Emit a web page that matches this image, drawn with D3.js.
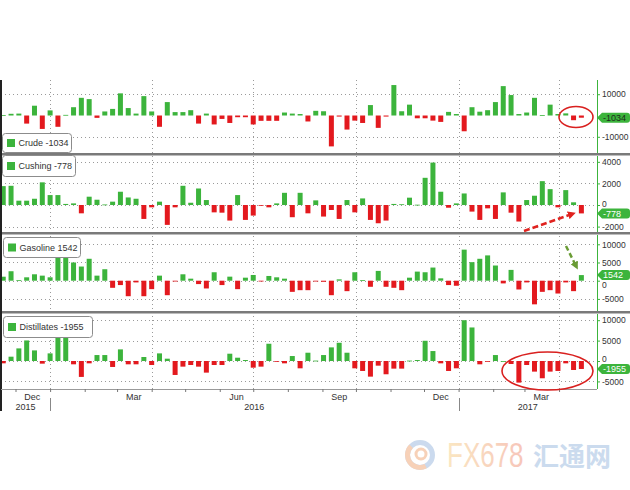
<!DOCTYPE html>
<html>
<head>
<meta charset="utf-8">
<script src="https://cdn.jsdelivr.net/npm/d3@7"></script>
<style>
  body { margin: 0; background: #fff; }
  svg { display: block; font-family: "Liberation Sans", Arial, sans-serif; }
</style>
</head>
<body>
<svg id="chart" width="630" height="490"></svg>
<script>
// weekly stock changes (thousand barrels), one bar per week, first bar plotted 2015-11-20
const crude = [200, 800, 900, -3800, 4600, -6300, 2400, -5300, 300, 3900,
  8300, 7700, -1100, 1900, 3100, 10400, 3500, 900, 9100, 1900,
  -5300, 6300, 1600, 1600, 2500, -3800, 900, -4200, -1600, -3500,
  -800, -800, -4200, -2500, -2500, -2500, 1400, 900, 700, -2800,
  2200, 2000, -14500, -500, -6600, -2400, -3500, 4900, -5800, -500,
  14300, 2000, 5100, -1300, -1300, -2400, -3000, 1700, 700, -7400,
  3900, 1800, 2500, 6300, 13800, 9600, 700, 1400, 8300, 200,
  5100, 700, 1000, -2200, -1034];

const cushing = [1750, 1780, 400, 400, 580, 2100, 920, 920, 100, 150,
  -770, 770, 490, 50, 310, 1230, 700, 580, -1290, -215,
  310, -1840, -215, 1780, 210, 1530, 460, -680, -710, -1440,
  920, -1380, -980, -30, -215, 150, 1130, -1130, 1130, -770,
  430, -1070, -460, -1290, 460, -680, 610, -1380, -1690, -1440,
  100, 70, 680, 30, 2520, 3930, 1230, -250, 150, 1070,
  -610, -1380, -310, -1290, 1170, -710, -1530, 460, 860, 2210,
  1470, -215, 1380, 250, -778];

const gasoline = [1100, 2600, 150, 930, 1760, 1390, 930, 7500, 7000, 5000,
  3890, 6020, 1390, 3150, -1950, -1200, -4260, -470, -4260, -2320,
  1390, -3980, -100, 1760, 560, -930, -2130, 2320, -1200, 1110,
  -2320, 830, 1570, -100, 1300, 930, 560, -3060, -2600, -2600,
  -200, -300, -3980, 370, -2870, 2320, 150, -1670, 2690, -1670,
  -1950, -2600, 830, 2500, 2320, 3610, 650, -1200, -1390, 8530,
  5090, 6020, 6950, 4170, -740, 2970, -2410, -470, -6490, -3060,
  -2600, -3520, -470, -2870, 1542];

const distillates = [-570, 1060, 3090, 5040, 2600, -650, 1870, 9000, 6500, -810,
  -3900, -570, 1460, 1460, -1460, 2850, -810, -810, 980, -980,
  1870, 570, -3420, -1380, -980, -1380, -2850, -980, -980, 1790,
  810, 240, -1630, -1380, 4230, -160, -570, 1220, -1790, 2030,
  100, 1460, 3340, 4470, 2030, -1790, -2440, -3830, -1140, -3250,
  -1870, -1870, 100, 240, 4960, 2440, -570, -2440, -1790, 10000,
  8220, -810, -50, 1460, 0, -730, -5290, -980, -2600, -4230,
  -2600, -2440, -570, -2200, -1955];

const seriesNames = ["Crude", "Cushing", "Gasoline", "Distillates"];
const lastLabels = ["-1034", "-778", "1542", "-1955"];
const crudeTicks = [-10000, 10000];
const cushingTicks = [-2000, 0, 2000, 4000];
const gasolineTicks = [-5000, 0, 5000, 10000];
const distillatesTicks = [-5000, 0, 5000, 10000];
const monthLabels = ["Dec", "Mar", "Jun", "Sep", "Dec", "Mar"];
const yearLabels = ["2015", "2016", "2017"];

const weeks = d3.timeFriday.range(new Date(2015, 10, 20), new Date(2017, 3, 22));

const svg = d3.select("#chart");
const GREEN = "#3cb43c", RED = "#e3191e";
const left = 1, right = 597, axisY = 389;

var x = d3.scaleTime()
    .domain([new Date(2015, 10, 18), new Date(2017, 4, 5)])
    .range([left, right]);

// panel layout (zeroShift nudges the "0" label where the value tag sits on it)
const panels = [
    { values: crude, ticks: crudeTicks, top: 80, bottom: 153, domain: [-17600, 16670], lg: [2.5, 133.5, 69, 19], dark: true, zeroShift: 0 },
    { values: cushing, ticks: cushingTicks, top: 156, bottom: 232, domain: [-2500, 4540], lg: [2.5, 155.5, 73, 21], zeroShift: -1 },
    { values: gasoline, ticks: gasolineTicks, top: 235, bottom: 311, domain: [-8320, 12550], lg: [3.5, 237.5, 77, 20], zeroShift: 4 },
    { values: distillates, ticks: distillatesTicks, top: 314, bottom: 389, domain: [-6860, 11520], lg: [3.5, 316.5, 89, 21], zeroShift: -2.5 }
];

var defs = svg.append("defs");
defs.append("clipPath").attr("id", "plotclip")
    .append("rect").attr("x", left).attr("y", 80).attr("width", right - left).attr("height", axisY - 80);

function marker(id, color) {
    defs.append("marker").attr("id", id)
        .attr("viewBox", "0 0 10 10").attr("refX", 5).attr("refY", 5)
        .attr("markerWidth", 3.2).attr("markerHeight", 3.2).attr("orient", "auto")
        .append("path").attr("d", "M0,0 L10,5 L0,10 Z").attr("fill", color);
}
marker("arrRed", "#e0221e");
marker("arrGreen", "#6a9c35");

var wmGrad = defs.append("linearGradient").attr("id", "wmgrad").attr("x1", 0).attr("x2", 1);
wmGrad.append("stop").attr("offset", "0%").attr("stop-color", "#f8d79a");
wmGrad.append("stop").attr("offset", "100%").attr("stop-color", "#f2a08c");

// vertical quarter gridlines
var quarters = d3.timeMonth.every(3).range(new Date(2016, 0, 1), new Date(2017, 4, 1));
svg.append("g").selectAll("line").data(quarters).enter().append("line")
    .attr("x1", d => Math.round(x(d)) + 0.5).attr("x2", d => Math.round(x(d)) + 0.5)
    .attr("y1", 80).attr("y2", axisY)
    .attr("stroke", "#9a9a9a").attr("stroke-width", 1).attr("stroke-dasharray", "1,3");

panels.forEach((p, k) => {
    var y = d3.scaleLinear().domain(p.domain).range([p.bottom, p.top]);
    var g = svg.append("g");

    // horizontal gridlines
    g.selectAll(".hgrid").data(p.ticks).enter().append("line")
        .attr("x1", left).attr("x2", right)
        .attr("y1", d => Math.round(y(d)) + 0.5).attr("y2", d => Math.round(y(d)) + 0.5)
        .attr("stroke", "#9a9a9a").attr("stroke-dasharray", "1,3");

    // bars
    g.append("g").attr("clip-path", "url(#plotclip)")
        .selectAll("rect").data(p.values).enter().append("rect")
        .attr("x", (d, i) => x(weeks[i]) - 2.5)
        .attr("width", 5)
        .attr("y", d => Math.min(y(d), y(0)))
        .attr("height", d => Math.max(Math.abs(y(d) - y(0)), 0.8))
        .attr("fill", d => d >= 0 ? GREEN : RED);

    // right axis
    var ax = g.append("g").attr("transform", "translate(" + right + ",0)")
        .call(d3.axisRight(y).tickValues(p.ticks).tickSize(3).tickPadding(2).tickFormat(d => String(d)));
    ax.select(".domain").remove();
    ax.selectAll(".tick line").attr("stroke", GREEN);
    ax.selectAll(".tick text").attr("fill", "#333").style("font-size", "8.5px")
        .style("font-family", "'Liberation Sans', Arial, sans-serif")
        .attr("y", d => d === 0 ? p.zeroShift : 0);
    g.append("line").attr("x1", right + 0.5).attr("x2", right + 0.5)
        .attr("y1", p.top).attr("y2", p.bottom).attr("stroke", GREEN).attr("stroke-width", 1);

    // last value tag
    var last = p.values[p.values.length - 1];
    var yv = y(last);
    g.append("path")
        .attr("d", "M" + right + "," + yv + " L" + (right + 5) + "," + (yv - 5) + " H627 Q630," + (yv - 5) + " 630," + (yv - 2) +
            " V" + (yv + 2) + " Q630," + (yv + 5) + " 627," + (yv + 5) + " H" + (right + 5) + " Z")
        .attr("fill", GREEN);
    g.append("text").attr("x", right + 6).attr("y", yv + 3.2)
        .attr("fill", p.dark ? "#1d2b1d" : "#fff").style("font-size", "9px")
        .text(lastLabels[k]);

    // legend box
    var lg = p.lg;
    g.append("rect").attr("x", lg[0]).attr("y", lg[1]).attr("width", lg[2]).attr("height", lg[3])
        .attr("rx", 3).attr("fill", "#fff").attr("stroke", "#8c8c8c");
    g.append("rect").attr("x", lg[0] + 4.5).attr("y", lg[1] + lg[3] / 2 - 4).attr("width", 8).attr("height", 8)
        .attr("fill", GREEN);
    g.append("text").attr("x", lg[0] + 16).attr("y", lg[1] + lg[3] / 2 + 3.3)
        .attr("fill", "#333").style("font-size", "9px")
        .text(seriesNames[k] + "  " + lastLabels[k]);

    // separator under panel
    if (k < 3) {
        svg.append("rect").attr("x", 0).attr("y", p.bottom).attr("width", 630).attr("height", 2.5)
            .attr("fill", "#7a7a7a");
    }
});

// left border
svg.append("line").attr("x1", 1).attr("x2", 1).attr("y1", 80).attr("y2", 411)
    .attr("stroke", "#222").attr("stroke-width", 2);

// bottom axis
var months = d3.timeMonth.range(new Date(2015, 11, 1), new Date(2017, 4, 1));
var bx = svg.append("g").attr("transform", "translate(0," + axisY + ")")
    .call(d3.axisBottom(x).tickValues(months).tickSize(3).tickFormat(""));
bx.select(".domain").attr("stroke", "#9a9a9a").attr("d", "M" + left + ",0.5H" + right);
bx.selectAll(".tick line").attr("stroke", "#777");

var labelMonths = d3.timeMonth.range(new Date(2015, 11, 1), new Date(2017, 4, 1), 3);
svg.append("g").selectAll("text").data(labelMonths).enter().append("text")
    .attr("x", d => x(d3.timeDay.offset(d, 15)))
    .attr("y", 399.5).attr("text-anchor", "middle")
    .attr("fill", "#333").style("font-size", "9px")
    .text((d, i) => monthLabels[i]);

var yearStarts = [new Date(2016, 0, 1), new Date(2017, 0, 1)];
svg.append("g").selectAll("line").data(yearStarts).enter().append("line")
    .attr("x1", d => Math.round(x(d)) + 0.5).attr("x2", d => Math.round(x(d)) + 0.5)
    .attr("y1", 398).attr("y2", 411).attr("stroke", "#888");

var yearMid = [[x.range()[0], x(yearStarts[0])], [x(yearStarts[0]), x(yearStarts[1])], [x(yearStarts[1]), right]];
svg.append("g").selectAll("text").data(yearLabels).enter().append("text")
    .attr("x", (d, i) => (yearMid[i][0] + yearMid[i][1]) / 2)
    .attr("y", 410).attr("text-anchor", "middle")
    .attr("fill", "#333").style("font-size", "9px")
    .text(d => d);

// annotations
svg.append("ellipse").attr("cx", 576).attr("cy", 117).attr("rx", 17).attr("ry", 10.5)
    .attr("fill", "none").attr("stroke", "#d9201f").attr("stroke-width", 1.6);
svg.append("ellipse").attr("cx", 547.5).attr("cy", 371).attr("rx", 45.5).attr("ry", 19)
    .attr("fill", "none").attr("stroke", "#d9201f").attr("stroke-width", 1.6);
svg.append("line").attr("x1", 524).attr("y1", 231).attr("x2", 572).attr("y2", 214)
    .attr("stroke", "#e0221e").attr("stroke-width", 2.5).attr("stroke-dasharray", "6,3")
    .attr("marker-end", "url(#arrRed)");
svg.append("line").attr("x1", 566).attr("y1", 246).attr("x2", 576).attr("y2", 266)
    .attr("stroke", "#6a9c35").attr("stroke-width", 2.5).attr("stroke-dasharray", "5,3")
    .attr("marker-end", "url(#arrGreen)");

// watermark
var wm = svg.append("g").attr("opacity", 0.6);
wm.append("circle").attr("cx", 420).attr("cy", 455).attr("r", 12.5)
    .attr("fill", "none").attr("stroke", "#a9c3e3").attr("stroke-width", 5);
wm.append("path").attr("d", d3.arc()({ innerRadius: 10, outerRadius: 15, startAngle: Math.PI * 0.85, endAngle: Math.PI * 1.75 }))
    .attr("transform", "translate(420,455)").attr("fill", "#f3b48a");
wm.append("circle").attr("cx", 421).attr("cy", 454).attr("r", 5)
    .attr("fill", "none").attr("stroke", "#f3b48a").attr("stroke-width", 3);
wm.append("text").attr("transform", "translate(447,467) scale(1,1.35)")
    .attr("fill", "url(#wmgrad)").style("font-size", "26px").style("font-family", "'Liberation Sans', Arial, sans-serif")
    .text("FX678");
wm.append("text").attr("x", 533).attr("y", 466)
    .attr("fill", "#a9c4e4").style("font-size", "26px").style("font-weight", "bold")
    .style("font-family", "'Noto Sans CJK SC', sans-serif")
    .text("汇通网");
</script>
</body>
</html>
